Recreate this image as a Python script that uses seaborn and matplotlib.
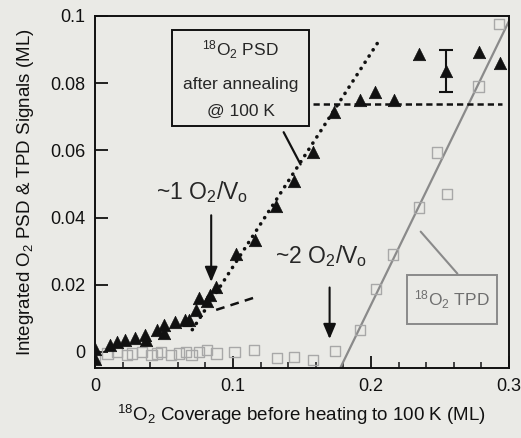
import matplotlib
matplotlib.use("Agg")
import matplotlib.pyplot as plt
from matplotlib.patches import Rectangle
from matplotlib.ticker import MultipleLocator
import seaborn as sns
import pandas as pd

# ---- data ----
psd_x = [0.0, 0.0, 0.011, 0.016, 0.022, 0.029, 0.036, 0.037, 0.045, 0.050, 0.050,
         0.058, 0.065, 0.068, 0.073, 0.0755, 0.081, 0.083, 0.088, 0.102, 0.116,
         0.131, 0.144, 0.158, 0.173, 0.192, 0.203, 0.2166, 0.2345, 0.254, 0.278, 0.2935]
psd_y = [0.001, -0.002, 0.002, 0.003, 0.0036, 0.004, 0.005, 0.0036, 0.0066, 0.008, 0.0057,
         0.009, 0.0095, 0.0095, 0.0125, 0.016, 0.015, 0.017, 0.0194, 0.029, 0.0334,
         0.0433, 0.051, 0.0594, 0.0713, 0.075, 0.0773, 0.075, 0.0887, 0.0836, 0.0893, 0.086]

tpd_x = [0.0, 0.009, 0.016, 0.023, 0.027, 0.034, 0.041, 0.045, 0.048, 0.055, 0.061,
         0.066, 0.070, 0.0755, 0.081, 0.088, 0.101, 0.115, 0.132, 0.144, 0.158, 0.174,
         0.192, 0.2036, 0.216, 0.235, 0.248, 0.255, 0.278, 0.293]
tpd_y = [-0.002, -0.0005, 0.0, -0.001, -0.0005, 0.0, -0.001, -0.0005, 0.0, -0.001, -0.0005,
         0.0, -0.001, 0.0, 0.0005, -0.0005, 0.0, 0.0006, -0.0018, -0.0015, -0.0024, 0.0003,
         0.0066, 0.0188, 0.029, 0.043, 0.0594, 0.047, 0.079, 0.0976]

err_x = [0.254]
err_y = [0.0836]
err_e = [0.0063]

fit_steep_x = [0.0705, 0.207]
fit_steep_y = [0.0066, 0.0934]
fit_low_x = [0.0878, 0.118]
fit_low_y = [0.0125, 0.0165]
sat_x = [0.158, 0.295]
sat_y = [0.0737, 0.0737]
tpd_fit_x = [0.1775, 0.3]
tpd_fit_y = [-0.005, 0.0985]

xticks = [0, 0.1, 0.2, 0.3]
xtick_labels = ["0", "0.1", "0.2", "0.3"]
yticks = [0, 0.02, 0.04, 0.06, 0.08, 0.1]
ytick_labels = ["0", "0.02", "0.04", "0.06", "0.08", "0.1"]

# ---- style ----
sns.set_style("ticks")
BG = "#eaeae6"
plt.rcParams["font.family"] = ["Liberation Sans", "DejaVu Sans"]
plt.rcParams["mathtext.fontset"] = "custom"
plt.rcParams["mathtext.rm"] = "Liberation Sans"
plt.rcParams["mathtext.it"] = "Liberation Sans"
plt.rcParams["mathtext.default"] = "rm"

fig = plt.figure(figsize=(5.21, 4.38), dpi=100, facecolor=BG)
ax = fig.add_axes([95 / 521, 1 - 368 / 438, (509 - 95) / 521, (368 - 16) / 438])
ax.set_facecolor(BG)

df_psd = pd.DataFrame({"x": psd_x, "y": psd_y})
df_tpd = pd.DataFrame({"x": tpd_x, "y": tpd_y})

# TPD fit line (gray solid)
sns.lineplot(x=tpd_fit_x, y=tpd_fit_y, ax=ax, color="#8a8a8a", lw=1.6, sort=False)

# fits for PSD
ax.plot(fit_steep_x, fit_steep_y, color="#111111", lw=2.6, linestyle=(0, (0.05, 2.0)),
        dash_capstyle="round")
ax.plot(fit_low_x, fit_low_y, color="#111111", lw=1.8, linestyle=(0, (3.5, 2.5)))
ax.plot(sat_x, sat_y, color="#111111", lw=1.8, linestyle=(0, (2.5, 1.6)))

# TPD squares
sns.scatterplot(data=df_tpd, x="x", y="y", ax=ax, marker="s", s=55,
                facecolor="none", edgecolor="#a8a8a8", linewidth=1.0, zorder=3)
# PSD triangles
sns.scatterplot(data=df_psd, x="x", y="y", ax=ax, marker="^", s=80,
                color="#111111", edgecolor="#111111", linewidth=0.5, zorder=4)
ax.errorbar(err_x, err_y, yerr=err_e, fmt="none", ecolor="#111111",
            elinewidth=1.5, capsize=5, capthick=1.5, zorder=4)

ax.set_xlim(0, 0.3)
ax.set_ylim(-0.0048, 0.1)
ax.set_xticks(xticks)
ax.set_xticklabels(xtick_labels)
ax.set_yticks(yticks)
ax.set_yticklabels(ytick_labels)
ax.xaxis.set_minor_locator(MultipleLocator(0.02))
ax.tick_params(axis="both", which="major", direction="in", length=9, width=1.3,
               labelsize=13, pad=7, colors="#111111")
ax.tick_params(axis="x", which="minor", direction="in", length=4, width=1.2)
for sp in ax.spines.values():
    sp.set_linewidth(1.4)
    sp.set_color("#111111")

ax.set_xlabel(r"$^{18}$O$_2$ Coverage before heating to 100 K (ML)", fontsize=13.5,
              labelpad=6, color="#111111")
ax.set_ylabel(r"Integrated O$_2$ PSD & TPD Signals (ML)", fontsize=13.5,
              labelpad=10, color="#111111")

# PSD annotation box
ax.add_patch(Rectangle((0.056, 0.0672), 0.0994, 0.0286, fill=False,
                       edgecolor="#111111", lw=1.4, zorder=5))
ax.text(0.1055, 0.0900, r"$^{18}$O$_2$ PSD", ha="center", va="center", fontsize=12.5)
ax.text(0.1055, 0.0797, "after annealing", ha="center", va="center", fontsize=12.5)
ax.text(0.1055, 0.0715, "@ 100 K", ha="center", va="center", fontsize=12.5)
ax.plot([0.1367, 0.149], [0.0654, 0.0558], color="#111111", lw=1.6)

# ~1 O2/Vo
ax.text(0.0775, 0.0475, r"~1 O$_2$/V$_\mathrm{o}$", ha="center", va="center", fontsize=16.5)
ax.annotate("", xy=(0.0842, 0.020), xytext=(0.0842, 0.0415),
            arrowprops=dict(arrowstyle="-|>,head_length=0.9,head_width=0.38",
                            color="#111111", lw=1.5))
# ~2 O2/Vo
ax.text(0.164, 0.0285, r"~2 O$_2$/V$_\mathrm{o}$", ha="center", va="center", fontsize=16.5)
ax.annotate("", xy=(0.170, 0.003), xytext=(0.170, 0.020),
            arrowprops=dict(arrowstyle="-|>,head_length=0.9,head_width=0.38",
                            color="#111111", lw=1.5))

# TPD annotation box
ax.add_patch(Rectangle((0.226, 0.0084), 0.0654, 0.0146, fill=False,
                       edgecolor="#8a8a8a", lw=1.4, zorder=5))
ax.text(0.2587, 0.0155, r"$^{18}$O$_2$ TPD", ha="center", va="center", fontsize=12.5,
        color="#6f6f6f")
ax.plot([0.236, 0.2626], [0.0358, 0.0233], color="#8a8a8a", lw=1.5)

fig.savefig("out.png", dpi=100, facecolor=BG)
